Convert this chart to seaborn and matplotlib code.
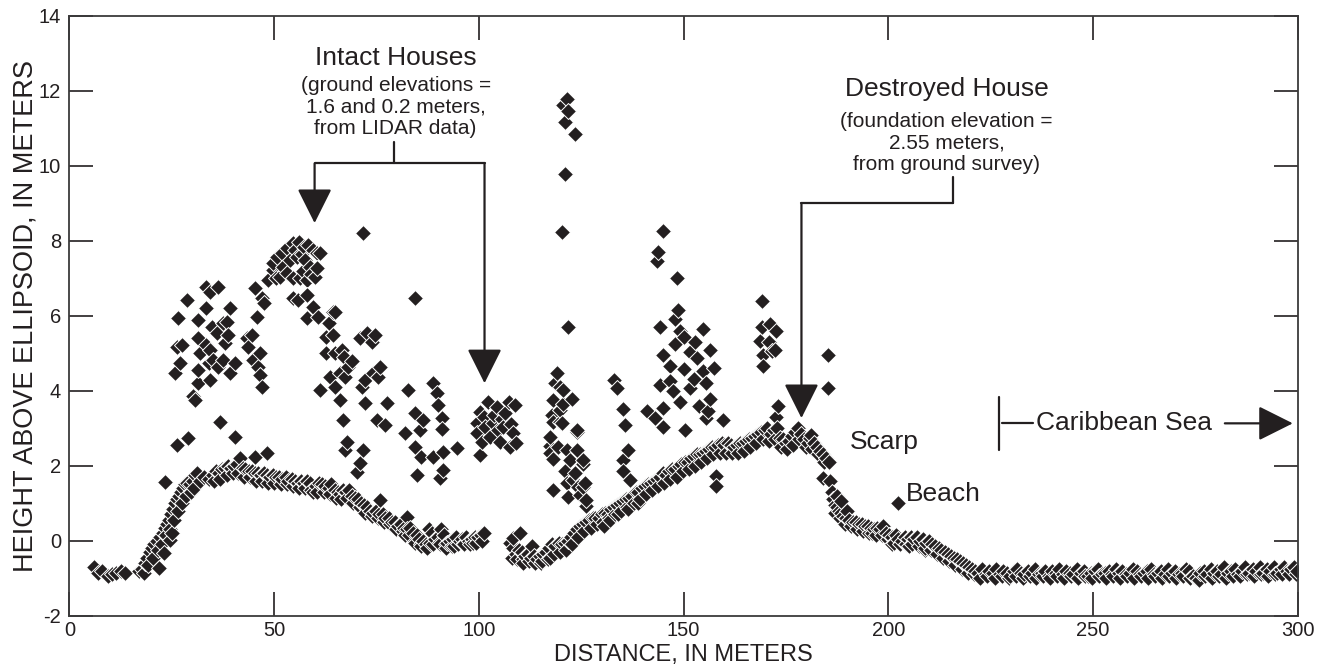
import numpy as np
import pandas as pd
import matplotlib
matplotlib.use("Agg")
import matplotlib.pyplot as plt
import seaborn as sns

# ---------------- data ----------------
# bare-earth / ground returns (upper row of the dense band)
ground_x = [
    6.0, 7.0, 8.0, 9.5, 10.5, 11.5, 12.5, 13.5,
    17.0, 17.8, 18.5, 19.0, 19.6, 20.2, 20.8, 21.3, 21.8, 22.2, 22.8, 23.0, 23.3, 23.8, 24.3, 24.6, 24.8,
    25.0, 25.3, 25.8, 26.3, 26.8, 27.3, 27.8, 28.3, 28.8, 29.5, 30.2, 30.8, 31.3, 23.4,
    35.0, 35.8, 36.5, 37.2, 38.0, 38.8, 39.5, 40.3, 41.0, 41.6, 42.3, 43.0, 43.8, 44.5, 45.3, 45.4,
    46.0, 46.8, 47.5, 48.2, 48.3, 49.0, 49.8, 50.5, 51.3, 52.0, 52.8, 53.5, 54.3, 55.0, 55.8, 56.5,
    57.3, 58.0, 58.8, 59.5, 60.3, 61.0, 61.8, 62.5, 63.3, 64.0, 64.8, 65.5,
    66.0, 66.8, 67.5, 68.3, 69.0, 69.8, 70.5, 71.2, 72.0, 72.7, 73.4, 74.2, 75.0, 75.7, 76.5, 77.2,
    78.0, 78.8, 79.5, 80.3, 81.0, 81.8, 82.5, 83.3, 84.0, 84.8, 85.5, 86.3, 87.0, 87.8, 88.5, 89.3,
    90.0, 90.8, 91.5, 92.3, 93.0, 93.8, 94.5, 95.3, 96.0, 96.8, 97.5, 98.3, 99.0, 99.8, 100.5, 101.2,
    82.0, 84.5, 86.0, 88.0, 90.5, 92.0, 94.0, 96.5, 98.5, 75.9, 82.4,
    107.6, 108.3, 109.0, 109.8, 110.5, 111.2, 112.0, 112.7, 113.4, 114.2, 115.0, 115.7, 116.5, 117.2,
    118.0, 118.7, 119.5, 120.3, 121.0, 121.8, 122.5, 123.3, 124.0, 124.8, 125.5, 126.3, 127.0, 127.8,
    128.5, 110.8, 113.0, 115.5, 117.5, 108.4, 110.1,
    129.3, 130.0, 130.8, 131.5, 132.3, 133.0, 133.8, 134.5, 135.3, 136.0, 136.8, 137.5, 138.3, 139.0,
    139.8, 140.5, 141.3, 142.0, 142.8, 143.5, 144.3, 145.0, 145.8, 146.5, 147.3, 148.0, 148.8, 149.5,
    150.3, 151.0, 151.8, 152.5, 153.3, 154.0, 154.8, 155.5, 156.3, 157.0, 157.8, 158.5, 159.3, 160.0,
    160.8, 161.5, 162.3, 163.0, 163.8, 164.5, 165.3, 166.0, 166.8, 167.5, 168.3, 169.0, 169.8, 170.5,
    171.3, 172.0, 172.8, 173.5, 174.3, 175.0, 175.8, 176.5, 177.3, 178.0, 178.8, 179.5, 180.3, 181.0,
    181.2, 181.8, 182.5, 183.3, 184.0, 184.1, 184.8, 185.5, 130.5, 132.0, 134.0, 136.5, 139.0,
    185.8, 186.2, 186.6, 187.0, 187.5, 188.0, 188.5, 189.0, 189.8, 190.5, 191.3, 192.0, 192.8, 193.5,
    194.3, 195.0, 195.8, 196.5, 197.3, 198.0, 198.8, 199.5, 200.3, 201.0, 201.8, 202.5, 203.3, 204.0,
    204.8, 205.5, 206.3, 207.0, 207.8, 208.5, 209.3, 210.0, 210.8, 211.5, 212.3, 213.0, 213.8, 214.5,
    215.3, 216.0, 216.8, 217.5, 218.3, 219.0, 219.8, 220.5, 221.3,
    187.5, 188.5, 190.0, 196.0, 201.0, 205.0, 209.0,
    222.0, 223.0, 223.8, 224.7, 225.5, 226.4, 227.2, 228.1, 229.0, 229.8, 230.7, 231.5, 232.4, 233.2,
    234.1, 235.0, 235.8, 236.7, 237.5, 238.4, 239.2, 240.1, 241.0, 241.8, 242.7, 243.5, 244.4, 245.2,
    246.1, 247.0, 247.8, 248.7, 249.5, 250.4, 251.2, 252.1, 253.0, 253.8, 254.7, 255.5, 256.4, 257.2,
    258.1, 259.0, 259.8, 260.7, 261.5, 262.4, 263.2, 264.1, 265.0, 265.8, 266.7, 267.5, 268.4, 269.2,
    270.1, 271.0, 271.8, 272.7, 273.5, 274.4, 275.2, 276.1, 277.0, 277.8, 278.7, 279.5, 280.4, 281.2,
    282.1, 283.0, 283.8, 284.7, 285.5, 286.4, 287.2, 288.1, 289.0, 289.8, 290.7, 291.5, 292.4, 293.2,
    294.1, 295.0, 295.8, 296.7, 297.5, 298.4, 299.2, 299.7,
]
ground_y = [
    -0.70, -0.85, -0.80, -0.95, -0.90, -0.85, -0.80, -0.85,
    -0.80, -0.75, -0.60, -0.45, -0.30, -0.20, -0.10, 0.00, -0.72, 0.10, 0.20, -0.34, 0.35, 0.45, 0.55, 0.02, 0.70,
    0.20, 0.85, 1.00, 1.10, 1.20, 1.30, 1.40, 1.50, 1.55, 1.50, 1.60, 1.75, 1.80, 1.57,
    1.75, 1.85, 1.80, 1.90, 1.95, 2.00, 1.95, 2.00, 2.05, 2.20, 1.95, 1.90, 1.85, 1.85, 1.80, 2.24,
    1.80, 1.75, 1.80, 2.33, 1.75, 1.70, 1.75, 1.70, 1.70, 1.65, 1.70, 1.60, 1.65, 1.60, 1.55, 1.60,
    1.55, 1.60, 1.55, 1.30, 1.45, 1.55, 1.50, 1.45, 1.40, 1.50, 1.35, 1.30,
    1.25, 1.35, 1.30, 1.35, 1.20, 1.15, 1.10, 1.00, 0.95, 0.90, 0.80, 0.75, 0.80, 0.70, 0.70, 0.60,
    0.60, 0.50, 0.50, 0.40, 0.45, 0.35, 0.30, 0.35, 0.20, 0.15, 0.05, 0.00, -0.10, 0.30, 0.20, 0.05,
    0.10, 0.30, 0.15, -0.05, 0.00, 0.05, 0.10, 0.00, 0.05, 0.10, 0.00, 0.05, 0.10, 0.10, 0.15, 0.20,
    0.15, -0.05, -0.15, -0.05, -0.10, -0.20, -0.15, -0.10, -0.05, 1.09, 0.64,
    -0.05, -0.20, -0.35, -0.25, -0.30, -0.40, -0.35, -0.45, -0.40, -0.50, -0.40, -0.35, -0.30, -0.20,
    -0.10, -0.15, -0.05, -0.10, -0.05, 0.00, 0.10, 0.20, 0.30, 0.40, 0.45, 0.50, 0.55, 0.60,
    0.60, -0.50, -0.15, -0.55, -0.45, 0.06, 0.20,
    0.60, 0.70, 0.75, 0.70, 0.85, 0.90, 0.95, 1.00, 1.05, 1.10, 1.15, 1.20, 1.30, 1.30,
    1.40, 1.45, 1.50, 1.55, 1.60, 1.65, 1.70, 1.80, 1.75, 1.85, 1.90, 1.90, 2.00, 2.05,
    2.10, 2.10, 2.20, 2.25, 2.30, 2.30, 2.35, 2.40, 2.45, 2.50, 2.50, 2.55, 2.60, 2.55,
    2.60, 2.55, 2.50, 2.55, 2.60, 2.60, 2.65, 2.70, 2.75, 2.80, 2.85, 2.90, 2.95, 3.00,
    2.85, 2.95, 3.00, 2.75, 2.70, 2.60, 2.65, 2.80, 2.90, 3.00, 2.85, 2.70, 2.60, 2.75,
    2.82, 2.60, 2.50, 2.40, 2.30, 1.67, 2.20, 2.10, 0.40, 0.55, 0.70, 0.85, 1.00,
    1.60, 1.30, 1.10, 0.95, 0.90, 0.80, 0.75, 0.65, 0.60, 0.55, 0.50, 0.50, 0.45, 0.45,
    0.40, 0.40, 0.35, 0.30, 0.35, 0.30, 0.40, 0.20, 0.15, 0.10, 0.15, 0.05, 0.00, 0.10,
    0.05, 0.10, 0.05, 0.10, 0.00, 0.05, -0.05, 0.00, -0.10, -0.15, -0.20, -0.25, -0.30, -0.35,
    -0.40, -0.45, -0.50, -0.55, -0.60, -0.65, -0.70, -0.75, -0.80,
    1.20, 1.05, 0.80, 0.20, -0.10, -0.15, -0.20,
    -0.85, -0.75, -0.90, -0.80, -0.85, -0.75, -0.90, -0.80, -0.85, -0.95, -0.80, -0.75, -0.85, -0.90,
    -0.80, -0.85, -0.75, -0.90, -0.85, -0.80, -0.95, -0.80, -0.85, -0.75, -0.90, -0.80, -0.85, -0.90,
    -0.75, -0.85, -0.80, -0.95, -0.85, -0.80, -0.75, -0.90, -0.85, -0.80, -0.90, -0.75, -0.85, -0.80,
    -0.90, -0.85, -0.75, -0.80, -0.90, -0.85, -0.80, -0.75, -0.90, -0.85, -0.80, -0.90, -0.75, -0.85,
    -0.80, -0.90, -0.85, -0.75, -0.80, -0.95, -1.00, -0.85, -0.80, -0.90, -0.75, -0.85, -0.80, -0.90,
    -0.70, -0.85, -0.80, -0.75, -0.90, -0.80, -0.70, -0.85, -0.75, -0.80, -0.70, -0.85, -0.75, -0.80,
    -0.70, -0.85, -0.75, -0.70, -0.80, -0.75, -0.70, -0.80,
]

# lower row of the dense ground band
lower_x = [
    18.2, 19.3, 20.5, 21.6, 22.6, 23.6, 24.6, 25.6, 26.6, 27.6, 28.6, 29.8, 30.5, 31.8, 33.0, 34.0,
    35.4, 36.9, 38.4, 39.9, 41.3, 42.7, 44.1, 45.6, 47.1, 48.6, 50.1, 51.6, 53.1, 54.6, 56.1, 57.6,
    59.1, 60.6, 62.1, 63.6, 65.1,
    66.4, 67.9, 69.4, 70.9, 72.3, 73.8, 75.3, 76.8, 78.4, 79.9, 81.4, 82.9, 84.4, 85.9, 87.4, 88.9,
    90.4, 91.9, 93.4, 94.9, 96.4, 97.9, 99.4, 100.9,
    108.0, 109.4, 110.9, 112.3, 113.8, 115.3, 116.8, 118.3, 119.8, 121.3, 122.8, 124.3, 125.8, 127.3, 128.8,
    130.3, 131.8, 133.3, 134.8, 136.3, 137.8, 139.3, 140.8, 142.3, 143.8, 145.3, 146.8, 148.3, 149.8,
    151.3, 152.8, 154.3, 155.8, 157.3, 158.8, 160.3, 161.8, 163.3, 164.8, 166.3, 167.8, 169.3, 170.8,
    172.3, 173.8, 175.3, 176.8, 178.3, 179.8, 181.3, 182.8, 184.3,
    186.9, 188.2, 189.4, 190.9, 192.4, 193.9, 195.4, 196.9, 198.4, 199.9, 201.4, 202.9, 204.4, 205.9,
    207.4, 208.9, 210.4, 211.9, 213.4, 214.9, 216.4, 217.9, 219.4, 220.9,
    222.5, 224.2, 226.0, 227.7, 229.4, 231.1, 232.8, 234.5, 236.2, 237.9, 239.6, 241.3, 243.0, 244.7,
    246.4, 248.1, 249.8, 251.5, 253.2, 254.9, 256.6, 258.3, 260.0, 261.7, 263.4, 265.1, 266.8, 268.5,
    270.2, 271.9, 273.6, 275.8, 277.4, 279.1, 280.8, 282.5, 284.2, 285.9, 287.6, 289.3, 291.0, 292.7,
    294.4, 296.1, 297.8, 299.5,
]
lower_y = [
    -0.85, -0.65, -0.45, -0.25, -0.10, 0.15, 0.30, 0.55, 0.80, 1.00, 1.20, 1.30, 1.40, 1.60, 1.70, 1.65,
    1.60, 1.65, 1.75, 1.80, 1.80, 1.70, 1.70, 1.60, 1.60, 1.55, 1.55, 1.50, 1.50, 1.45, 1.40, 1.40,
    1.35, 1.30, 1.30, 1.25, 1.15,
    1.10, 1.15, 1.00, 0.90, 0.75, 0.65, 0.60, 0.50, 0.45, 0.30, 0.25, 0.15, 0.00, -0.10, -0.20, -0.10,
    -0.05, -0.10, -0.15, -0.10, -0.05, -0.10, -0.05, 0.00,
    -0.45, -0.50, -0.60, -0.55, -0.60, -0.60, -0.50, -0.35, -0.30, -0.25, -0.10, 0.10, 0.25, 0.35, 0.45,
    0.50, 0.60, 0.70, 0.80, 0.90, 1.00, 1.10, 1.25, 1.35, 1.45, 1.55, 1.65, 1.70, 1.85,
    1.90, 2.00, 2.10, 2.20, 2.30, 2.35, 2.35, 2.35, 2.35, 2.40, 2.50, 2.60, 2.70, 2.65,
    2.70, 2.50, 2.45, 2.55, 2.70, 2.50, 2.45, 2.30, 2.10,
    0.75, 0.60, 0.45, 0.40, 0.30, 0.25, 0.20, 0.15, 0.15, 0.05, -0.05, -0.10, -0.10, -0.10,
    -0.15, -0.25, -0.25, -0.35, -0.45, -0.55, -0.65, -0.75, -0.85, -0.90,
    -1.00, -0.95, -1.00, -0.95, -1.00, -0.95, -1.00, -0.95, -1.00, -0.95, -1.00, -0.95, -1.00, -0.95,
    -1.00, -0.95, -1.00, -0.95, -1.00, -0.95, -1.00, -0.95, -1.00, -0.95, -1.00, -0.95, -1.00, -0.95,
    -1.00, -0.95, -1.00, -1.05, -0.95, -1.00, -0.95, -1.00, -0.95, -0.95, -0.90, -0.95, -0.90, -0.95,
    -0.90, -0.90, -0.90, -0.90,
]

# vegetation / structure returns above the ground
canopy_x = [
    26.2, 29.1, 36.8, 40.5, 30.7, 30.2, 31.5, 25.8, 27.0, 26.2, 27.4, 26.6, 28.7, 31.5, 31.5, 31.9,
    31.5, 33.5, 34.4, 36.4, 33.5, 34.8, 36.0, 37.6, 38.4, 39.2, 38.8, 34.4, 34.0, 35.2, 36.4, 37.6,
    39.2, 40.5, 34.4, 33.5, 38.0, 43.3, 44.5, 43.7, 44.9, 46.2, 46.6, 46.6, 47.0, 45.8, 45.4, 47.0, 47.5,
    49.8, 50.6, 51.9, 53.1, 54.7, 56.0, 57.2, 58.4, 59.6, 60.4, 60.4, 60.0, 58.0, 56.3, 54.7, 53.1,
    51.5, 48.6, 49.8, 53.9, 55.5, 57.6, 58.8, 54.7, 55.9, 58.0, 59.6, 58.0, 60.8, 64.5, 52.3, 55.0,
    57.0, 50.5, 56.8, 59.0, 61.2,
    71.8, 84.4, 64.9, 62.8, 64.5, 66.5, 62.8, 68.1, 66.1, 63.7, 64.9, 67.3, 66.1, 66.9, 61.2, 71.0,
    72.6, 74.6, 73.8, 75.9, 74.2, 72.2, 71.4, 75.5, 72.2, 77.5, 75.1, 77.1, 67.7, 67.3, 71.8, 71.0,
    70.2, 82.8, 88.9, 89.7, 90.1, 90.9, 90.9, 84.4, 86.4, 85.6, 82.0, 84.4, 86.0, 84.8, 88.9, 91.3,
    91.3, 90.5, 94.6, 100.3, 65.0, 67.0, 69.0, 63.5,
    102.3, 100.3, 104.4, 106.4, 108.8, 99.5, 101.5, 103.5, 106.0, 108.4, 99.5, 102.7, 105.2, 107.6,
    109.2, 100.7, 103.8, 101.2, 105.6, 107.3, 104.7, 107.8,
    119.0, 119.8, 122.7, 120.6, 117.8, 119.8, 123.9, 117.4, 123.9, 118.2, 125.5, 121.1, 123.1, 125.5,
    124.7, 126.3, 118.2, 118.6, 120.6, 118.2, 119.8, 118.2, 120.2, 117.4, 119.4, 117.4, 121.5, 123.9,
    122.3, 125.5, 123.5, 125.9, 121.5, 121.9, 126.3, 124.3,
    121.5, 120.6, 121.9, 121.1, 123.5, 121.1, 120.2, 121.9,
    145.1, 143.8, 143.4, 148.3, 148.7, 144.3, 149.1, 154.8, 150.0, 145.1, 151.6, 156.5, 146.7, 144.3,
    150.0, 153.2, 154.8, 146.7, 151.6, 156.5, 149.1, 141.0, 143.0, 145.1, 145.1, 150.4, 155.6, 159.7,
    132.9, 133.7, 135.3, 135.7, 136.5, 135.3, 135.3, 137.0, 148.0, 152.5, 147.5, 155.5, 157.5, 153.8,
    156.0, 147.8, 152.8, 158.0, 158.0,
    169.1, 169.1, 171.1, 172.7, 168.7, 172.3, 169.5, 169.5, 170.8, 171.5, 173.0, 172.5,
    185.4, 185.4, 202.5,
]
canopy_y = [
    2.55, 2.73, 3.17, 2.77, 3.75, 3.85, 4.20, 4.46, 4.73, 5.17, 5.22, 5.93, 6.42, 5.89, 5.40, 5.00,
    4.55, 6.77, 6.64, 6.77, 6.20, 5.71, 5.53, 5.80, 5.84, 6.20, 5.49, 5.09, 4.73, 4.82, 4.64, 4.82,
    4.46, 4.73, 4.29, 5.22, 5.26, 5.40, 5.49, 5.17, 4.82, 4.64, 5.00, 4.42, 4.11, 5.97, 6.73, 6.46, 6.35,
    7.22, 7.57, 7.66, 7.80, 7.93, 7.97, 7.84, 7.89, 7.75, 7.66, 7.26, 7.04, 6.95, 7.00, 7.00, 7.13,
    7.04, 6.95, 7.40, 7.48, 7.57, 7.48, 7.31, 6.46, 6.42, 6.55, 6.24, 5.93, 5.97, 6.10, 7.30, 7.75,
    7.20, 7.00, 7.65, 7.10, 7.66,
    8.20, 6.46, 6.10, 5.44, 5.49, 5.09, 5.00, 4.64, 4.46, 4.37, 4.11, 4.37, 3.75, 3.22, 4.02, 5.40,
    5.53, 5.49, 5.31, 4.64, 4.46, 4.29, 4.11, 4.37, 3.66, 3.66, 3.22, 3.09, 2.64, 2.42, 2.42, 2.06,
    1.84, 4.02, 4.20, 3.93, 3.62, 3.26, 2.99, 3.40, 3.22, 2.95, 2.86, 2.50, 2.24, 1.75, 2.24, 2.37,
    1.89, 1.66, 2.46, 2.29, 5.00, 4.90, 4.80, 5.80,
    3.71, 3.44, 3.57, 3.40, 3.62, 3.13, 3.04, 3.13, 3.04, 2.86, 2.86, 2.77, 2.64, 2.50,
    2.60, 2.64, 3.35, 3.30, 3.25, 3.70, 2.95, 3.10,
    4.48, 4.11, 3.78, 3.64, 3.36, 3.17, 2.89, 2.52, 2.42, 2.19, 2.05, 1.86, 1.63, 1.44,
    1.21, 0.93, 1.35, 4.20, 4.02, 3.75, 3.49, 3.17, 3.13, 2.77, 2.50, 2.33, 2.42, 2.95,
    2.15, 2.15, 1.80, 1.53, 1.53, 1.17, 1.09, 1.44,
    11.78, 11.63, 11.45, 11.17, 10.84, 9.77, 8.22, 5.70,
    8.27, 7.71, 7.47, 7.00, 6.16, 5.70, 5.60, 5.65, 5.42, 4.95, 5.04, 5.08, 4.67, 4.15,
    4.58, 4.86, 4.53, 4.25, 4.06, 3.78, 3.69, 3.45, 3.26, 3.54, 3.03, 2.94, 3.26, 3.22,
    4.29, 4.06, 3.50, 3.08, 2.42, 2.14, 1.86, 1.63, 5.90, 4.30, 4.00, 4.20, 4.60, 3.60,
    3.45, 5.25, 5.30, 1.72, 1.45,
    6.40, 5.70, 5.79, 5.60, 5.32, 5.08, 4.95, 4.67, 5.30, 5.05, 3.60, 3.30,
    4.95, 4.06, 1.00,
]

x_ticks = [0, 50, 100, 150, 200, 250, 300]
y_ticks = [-2, 0, 2, 4, 6, 8, 10, 12, 14]

df = pd.DataFrame({
    "distance": ground_x + lower_x + canopy_x,
    "height": ground_y + lower_y + canopy_y,
}).sort_values("distance", kind="mergesort")

# ---------------- figure ----------------
sns.set_style("ticks")
plt.rcParams["font.family"] = ["Liberation Sans", "DejaVu Sans"]
ink = "#231f20"

fig = plt.figure(figsize=(13.23, 6.70), dpi=100)
ax = fig.add_axes([0.0524, 0.081, 0.9285, 0.8956])

sns.scatterplot(data=df, x="distance", y="height", marker="D", s=66,
                color=ink, edgecolor="white", linewidth=0.7, ax=ax, legend=False)

ax.set_xlim(0, 300)
ax.set_ylim(-2, 14)
ax.set_xticks(x_ticks)
ax.set_yticks(y_ticks)
ax.set_xticklabels([str(v) for v in x_ticks])
ax.set_yticklabels([str(v) for v in y_ticks])
ax.tick_params(direction="in", length=17, width=1.2, top=True, right=True,
               labelsize=14.5, colors=ink, pad=6)
ax.tick_params(axis="x", pad=4)
for sp in ax.spines.values():
    sp.set_visible(True)
    sp.set_linewidth(1.3)
    sp.set_color("#3a3a3a")

ax.set_xlabel("DISTANCE, IN METERS", fontsize=17, color=ink, labelpad=3)
ax.set_ylabel("HEIGHT ABOVE ELLIPSOID, IN METERS", fontsize=19.5, color=ink, labelpad=0)

lw = 1.6
big = 19
small = 15
# ---- Intact Houses annotation ----
ax.text(79.7, 12.87, "Intact Houses", ha="center", va="center", fontsize=big, color=ink)
ax.text(79.7, 11.57, "(ground elevations =\n1.6 and 0.2 meters,\nfrom LIDAR data)",
        ha="center", va="center", fontsize=small, color=ink, linespacing=1.15)
ax.plot([79.2, 79.2], [10.64, 10.06], color=ink, lw=lw)
ax.plot([59.9, 101.4], [10.06, 10.06], color=ink, lw=lw)
arrow = dict(arrowstyle="-|>,head_length=0.9,head_width=0.45", color=ink, lw=lw,
             shrinkA=0, shrinkB=0, mutation_scale=24)
ax.annotate("", xy=(59.9, 8.47), xytext=(59.9, 10.06), arrowprops=arrow)
ax.annotate("", xy=(101.4, 4.2), xytext=(101.4, 10.06), arrowprops=arrow)

# ---- Destroyed House annotation ----
ax.text(214.2, 12.05, "Destroyed House", ha="center", va="center", fontsize=big, color=ink)
ax.text(214.2, 10.6, "(foundation elevation =\n2.55 meters,\nfrom ground survey)",
        ha="center", va="center", fontsize=small, color=ink, linespacing=1.15)
ax.plot([215.9, 215.9], [9.7, 9.0], color=ink, lw=lw)
ax.plot([178.8, 215.9], [9.0, 9.0], color=ink, lw=lw)
ax.annotate("", xy=(178.8, 3.27), xytext=(178.8, 9.0), arrowprops=arrow)

# ---- Scarp / Beach / Caribbean Sea ----
ax.text(190.6, 2.62, "Scarp", ha="left", va="center", fontsize=big, color=ink)
ax.text(204.3, 1.25, "Beach", ha="left", va="center", fontsize=big, color=ink)
ax.plot([227.1, 227.1], [2.42, 3.84], color=ink, lw=lw)
ax.plot([227.8, 235.3], [3.13, 3.13], color=ink, lw=lw)
ax.text(236.0, 3.13, "Caribbean Sea", ha="left", va="center", fontsize=big, color=ink)
ax.annotate("", xy=(298.8, 3.13), xytext=(282.2, 3.13), arrowprops=arrow)

fig.savefig("out.png", dpi=100)
